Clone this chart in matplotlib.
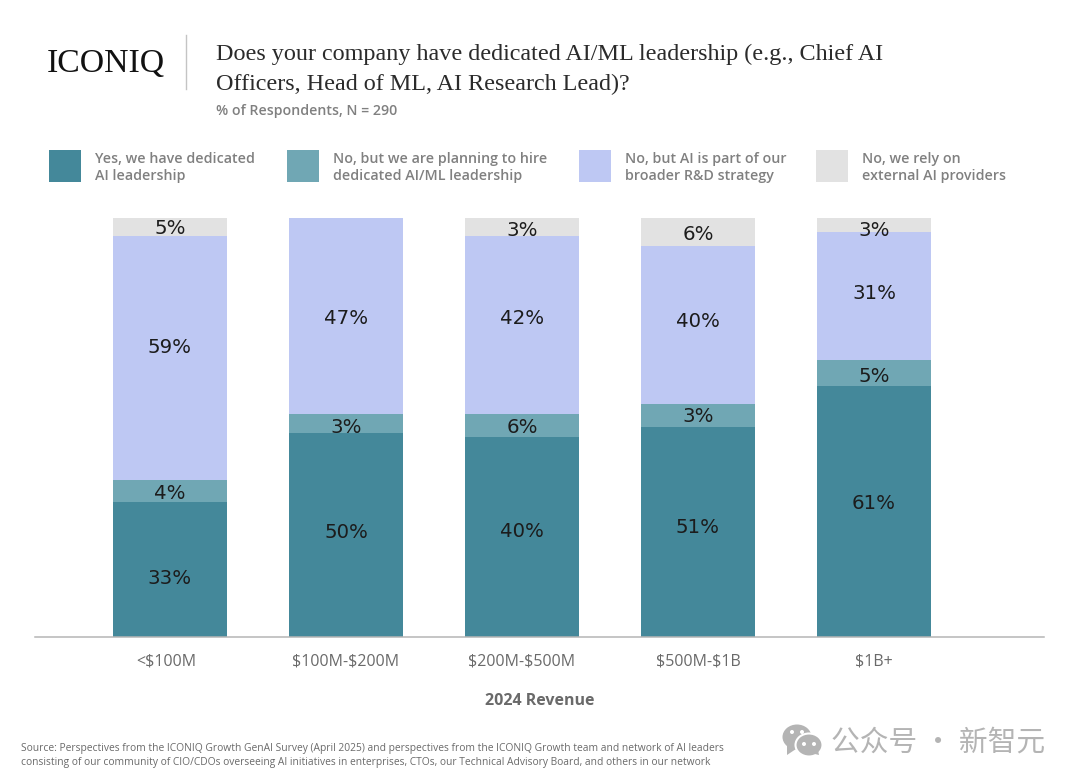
import matplotlib
matplotlib.use("Agg")
import matplotlib.pyplot as plt
from matplotlib.patches import Ellipse, Polygon, Rectangle
from matplotlib.transforms import ScaledTranslation

W, H = 1080, 783

# bar heights as measured, the printed labels do not always agree with them
revenue = ["<\\$100M", "\\$100M-\\$200M", "\\$200M-\\$500M", "\\$500M-\\$1B", "\\$1B+"]
yes_dedicated = [32.2, 48.7, 47.7, 50.1, 59.9]
planning_hire = [5.3, 4.5, 5.5, 5.5, 6.2]
part_of_rd = [58.2, 46.8, 42.5, 37.7, 30.5]
external = [4.3, 0, 4.3, 6.7, 3.4]

yes_labels = ["33%", "50%", "40%", "51%", "61%"]
planning_labels = ["4%", "3%", "6%", "3%", "5%"]
rd_labels = ["59%", "47%", "42%", "40%", "31%"]
external_labels = ["5%", "", "3%", "6%", "3%"]

series = [yes_dedicated, planning_hire, part_of_rd, external]
series_labels = [yes_labels, planning_labels, rd_labels, external_labels]
colors = ["#44889a", "#70a7b4", "#bec8f3", "#e2e2e2"]
legend_text = [
    "Yes, we have dedicated\nAI leadership",
    "No, but we are planning to hire\ndedicated AI/ML leadership",
    "No, but AI is part of our\nbroader R&D strategy",
    "No, we rely on\nexternal AI providers",
]
legend_x = [49, 287, 579, 816]

# label offset from segment centre, in pixels (positive = down)
nudge = [
    [9, -2, -6, -5, -8],
    [3, 4, 2, 1, 3],
    [-10, 2, -7, -4, -3],
    [1, 0, 3, 2, 5],
]

fig = plt.figure(figsize=(W / 100, H / 100), dpi=100, facecolor="white")

ax = fig.add_axes([35 / W, 1 - 637 / H, (1044 - 35) / W, (637 - 218) / H])
bottom = [0] * len(revenue)
for vals, labs, col, nud in zip(series, series_labels, colors, nudge):
    ax.bar(range(len(revenue)), vals, bottom=bottom, width=0.647, color=col, linewidth=0)
    for i, (v, lab) in enumerate(zip(vals, labs)):
        if lab:
            ax.annotate(lab, (i, bottom[i] + v / 2), xytext=(0, -nud[i] * 0.72),
                        textcoords="offset points", ha="center", va="center",
                        fontsize=14.2, color="#1c1c1c", family="DejaVu Sans")
    bottom = [b + v for b, v in zip(bottom, vals)]

ax.set_xlim(-0.767, 4.966)
ax.set_ylim(0, 100)
ax.set_yticks([])
ax.set_xticks(range(len(revenue)))
ax.set_xticklabels(revenue, fontsize=11.5, color="#6a6a6a", family="Open Sans")
ax.tick_params(axis="x", length=0, pad=12)
# first label sits a little left of its bar in the original
first = ax.get_xticklabels()[0]
first.set_transform(first.get_transform() + ScaledTranslation(-0.04, 0, fig.dpi_scale_trans))
for side in ["top", "left", "right"]:
    ax.spines[side].set_visible(False)
ax.spines["bottom"].set_color("#b5b5b5")
ax.spines["bottom"].set_linewidth(1.1)
ax.set_xlabel("2024 Revenue", fontsize=11.5, fontweight="bold", color="#6a6a6a",
              family="Open Sans", labelpad=17)

# overlay in pixel coordinates for the header, legend and footer
over = fig.add_axes([0, 0, 1, 1])
over.set_xlim(0, W)
over.set_ylim(H, 0)
over.axis("off")
over.patch.set_alpha(0)

over.text(47, 64, "ICONIQ", fontsize=24.3, family="Liberation Serif", color="#111111",
          ha="left", va="center")
over.plot([186, 186], [35, 89], color="#c4c4c4", lw=1)
over.text(216, 54.5, "Does your company have dedicated AI/ML leadership (e.g., Chief AI",
          fontsize=17.4, family="Liberation Serif", color="#2b2b2b", ha="left", va="center")
over.text(216, 84.5, "Officers, Head of ML, AI Research Lead)?",
          fontsize=17.4, family="Liberation Serif", color="#2b2b2b", ha="left", va="center")
over.text(216, 111, "% of Respondents, N = 290", fontsize=10.2, family="Open Sans",
          fontweight="semibold", color="#808080", ha="left", va="center")

for x0, col, txt in zip(legend_x, colors, legend_text):
    over.add_patch(Rectangle((x0, 150), 32, 32, color=col, linewidth=0))
    over.text(x0 + 46, 167.5, txt, fontsize=10.3, family="Open Sans", fontweight="semibold",
              color="#808080", ha="left", va="center", linespacing=1.26)

over.text(21, 755.5, "Source: Perspectives from the ICONIQ Growth GenAI Survey (April 2025) and "
          "perspectives from the ICONIQ Growth team and network of AI leaders\n"
          "consisting of our community of CIO/CDOs overseeing AI initiatives in enterprises, "
          "CTOs, our Technical Advisory Board, and others in our network",
          fontsize=7.4, family="Open Sans", color="#6a6a6a", ha="left", va="center", linespacing=1.25)

# watermark
grey = "#b4b4b4"
over.add_patch(Ellipse((797, 737), 29, 25, color=grey, linewidth=0))
over.add_patch(Polygon([[787, 745], [787, 755], [796, 749]], color=grey, linewidth=0))
over.add_patch(Ellipse((809, 745), 27, 23, facecolor=grey, linewidth=1.5, edgecolor="white"))
over.add_patch(Polygon([[811, 753], [819, 755], [818, 750]], color=grey, linewidth=0))
for ex, ey in [(792, 732), (802, 732), (804, 744), (814, 744)]:
    over.add_patch(Ellipse((ex, ey), 4, 4, color="white", linewidth=0))
over.text(831, 742.5, "公众号 · 新智元", fontsize=20.7, color=grey, ha="left", va="center",
          family=["Noto Sans CJK SC", "DejaVu Sans"])

fig.savefig("out.png", dpi=100)
